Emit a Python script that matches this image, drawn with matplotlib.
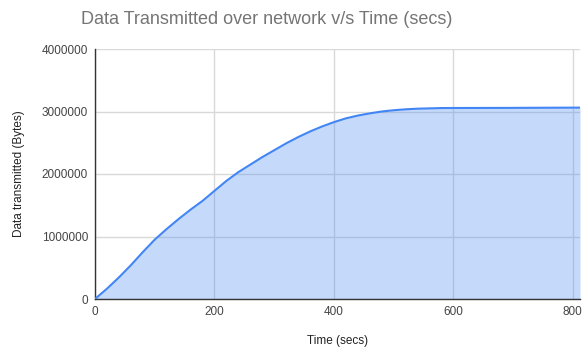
import matplotlib
matplotlib.use("Agg")
import matplotlib.pyplot as plt

plt.rcParams['font.family'] = ['Liberation Sans', 'DejaVu Sans']

time_secs = [0, 20, 40, 60, 80, 100, 120, 140, 160, 180, 200, 220, 240, 260, 280,
             300, 320, 340, 360, 380, 400, 420, 440, 460, 480, 500, 520, 540, 560,
             580, 600, 650, 700, 750, 812]
bytes_sent = [0, 165000, 345000, 540000, 750000, 950000, 1120000, 1280000, 1430000,
              1570000, 1730000, 1890000, 2030000, 2150000, 2270000, 2380000, 2490000,
              2590000, 2680000, 2760000, 2830000, 2890000, 2935000, 2970000, 3000000,
              3020000, 3035000, 3045000, 3050000, 3055000, 3056000, 3057000, 3058000,
              3060000, 3062000]
x_ticks = [0, 200, 400, 600, 800]
y_ticks = [0, 1000000, 2000000, 3000000, 4000000]

fig = plt.figure(figsize=(5.84, 3.48), dpi=100)
ax = fig.add_axes([95/584, 1-299/348, (580-95)/584, (299-49)/348])

ax.fill_between(time_secs, bytes_sent, 0, color='#4285f4', alpha=0.3, linewidth=0, zorder=2)
ax.plot(time_secs, bytes_sent, color='#4285f4', linewidth=1.5, zorder=3)

ax.set_xlim(0, 812)
ax.set_ylim(0, 4000000)
ax.set_xticks(x_ticks)
ax.set_yticks(y_ticks)
ax.set_xticklabels([str(v) for v in x_ticks])
ax.set_yticklabels([str(v) for v in y_ticks])
ax.grid(True, color='#d9d9d9', linewidth=1, zorder=0)
ax.set_axisbelow(True)
ax.tick_params(length=0, labelsize=8.5, colors='#444444', pad=5)
for s in ['top', 'right']:
    ax.spines[s].set_visible(False)
ax.spines['left'].set_color('#333333')
ax.spines['bottom'].set_color('#333333')
ax.spines['left'].set_linewidth(1)
ax.spines['bottom'].set_linewidth(1)

ax.set_xlabel('Time (secs)', fontsize=8.5, color='#222222', labelpad=12)
ax.set_ylabel('Data transmitted (Bytes)', fontsize=8.5, color='#222222', labelpad=12)

fig.text(267/584, 1-20/348, 'Data Transmitted over network v/s Time (secs)',
         ha='center', va='center', fontsize=13, color='#757575')

fig.savefig('out.png', dpi=100, facecolor='white')
